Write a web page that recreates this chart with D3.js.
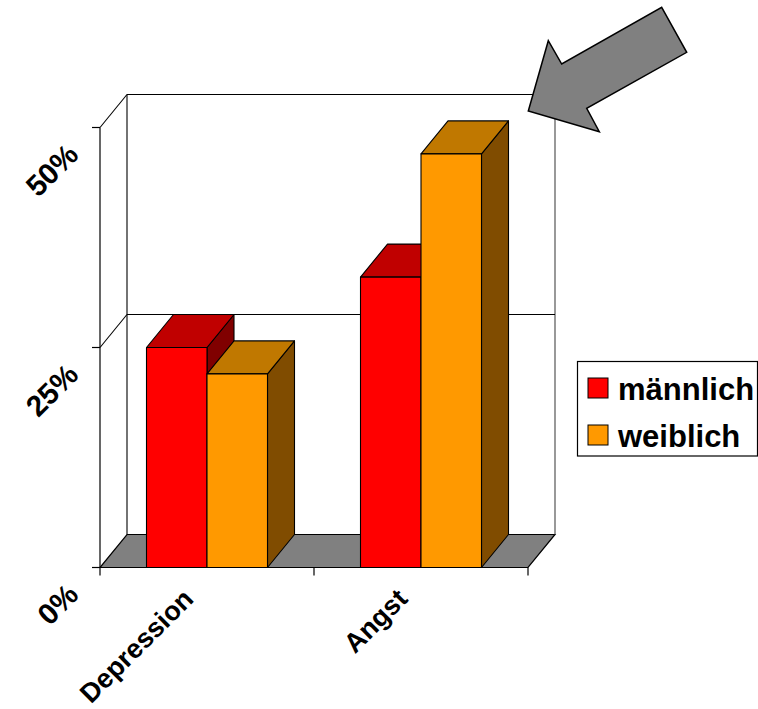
<!DOCTYPE html>
<html>
<head>
<meta charset="utf-8">
<script src="https://cdn.jsdelivr.net/npm/d3@7"></script>
<style>
  html, body { margin: 0; padding: 0; background: #fff; }
  svg { display: block; }
  text { font-family: "Liberation Sans", Arial, sans-serif; font-weight: bold; fill: #000; }
</style>
</head>
<body>
<svg id="chart" width="758" height="709"></svg>
<script>
// Categories, series and values (percent)
const categories = ["Depression", "Angst"];
const seriesNames = ["männlich", "weiblich"];
const maleValues = [25, 33];
const femaleValues = [22, 47];
const yTicks = [0, 25, 50];
const yTickLabels = ["0%", "25%", "50%"];

const seriesColors = {
  "männlich": { front: "#FF0000", top: "#C00000", side: "#800000" },
  "weiblich": { front: "#FF9900", top: "#C07800", side: "#804C00" }
};

const svg = d3.select("#chart");

// Plot geometry: front plane plus a depth offset for the 3D look
const plotLeft = 100, plotRight = 528, plotBottom = 567.5, plotTop = 127.5;
const dx = 27, dy = -33;

const x = d3.scaleBand().domain(categories).range([plotLeft, plotRight]).padding(0);
const barW = 60.5;
const xSeries = d3.scaleBand().domain(seriesNames)
  .range([-barW, barW]).padding(0);
const y = d3.scaleLinear().domain([0, 50]).range([plotBottom, plotTop]);

const pts = arr => arr.map(p => p.join(",")).join(" ");

// Floor
svg.append("polygon")
  .attr("points", pts([[plotLeft, plotBottom], [plotRight, plotBottom], [plotRight + dx, plotBottom + dy], [plotLeft + dx, plotBottom + dy]]))
  .attr("fill", "#808080").attr("stroke", "#000").attr("stroke-width", 1.2);

// Back wall and gridlines
const wall = svg.append("g").attr("stroke", "#000").attr("fill", "none").attr("stroke-width", 1.1);
wall.append("line").attr("x1", plotLeft + dx).attr("x2", plotLeft + dx)
  .attr("y1", y(50) + dy).attr("y2", y(0) + dy);
wall.append("line").attr("x1", plotRight + dx).attr("x2", plotRight + dx)
  .attr("y1", y(50) + dy).attr("y2", y(0) + dy).attr("stroke", "#444");
yTicks.filter(v => v > 0).forEach(v => {
  wall.append("line").attr("x1", plotLeft + dx).attr("x2", plotRight + dx)
    .attr("y1", y(v) + dy).attr("y2", y(v) + dy);
  wall.append("line").attr("x1", plotLeft).attr("x2", plotLeft + dx)
    .attr("y1", y(v)).attr("y2", y(v) + dy);
});

// Bars (side, top, front faces)
const data = categories.map((c, i) => ({
  cat: c,
  values: [
    { s: seriesNames[0], v: maleValues[i] },
    { s: seriesNames[1], v: femaleValues[i] }
  ]
}));

const bars = svg.append("g");
data.forEach(d => {
  const cx = x(d.cat) + x.bandwidth() / 2;
  d.values.forEach(b => {
    const x0 = cx + xSeries(b.s), x1 = x0 + xSeries.bandwidth();
    const y0 = y(0), y1 = y(b.v);
    const col = seriesColors[b.s];
    const g = bars.append("g").attr("stroke", "#000").attr("stroke-width", 1.1).attr("stroke-linejoin", "round");
    g.append("polygon").attr("fill", col.side)
      .attr("points", pts([[x1, y0], [x1 + dx, y0 + dy], [x1 + dx, y1 + dy], [x1, y1]]));
    g.append("polygon").attr("fill", col.top)
      .attr("points", pts([[x0, y1], [x1, y1], [x1 + dx, y1 + dy], [x0 + dx, y1 + dy]]));
    g.append("polygon").attr("fill", col.front)
      .attr("points", pts([[x0, y0], [x1, y0], [x1, y1], [x0, y1]]));
  });
});

// Front axes
const axes = svg.append("g").attr("stroke", "#000").attr("stroke-width", 1.2);
axes.append("line").attr("x1", plotLeft).attr("x2", plotLeft).attr("y1", y(50)).attr("y2", y(0));
yTicks.forEach(v => {
  axes.append("line").attr("x1", plotLeft - 8).attr("x2", plotLeft).attr("y1", y(v)).attr("y2", y(v));
});
[plotLeft, ...categories.map(c => x(c) + x.bandwidth())].forEach(px => {
  axes.append("line").attr("x1", px).attr("x2", px).attr("y1", plotBottom).attr("y2", plotBottom + 8);
});

// Tick labels, rotated
svg.append("g").selectAll("text").data(yTicks).join("text")
  .attr("transform", v => `translate(${plotLeft - 20},${y(v) + 29}) rotate(-45)`)
  .attr("text-anchor", "end").attr("font-size", 29.5)
  .text((v, i) => yTickLabels[i]);

svg.append("g").selectAll("text").data(categories).join("text")
  .attr("transform", c => `translate(${x(c) + x.bandwidth() / 2 - 12},${plotBottom + 33}) rotate(-45)`)
  .attr("text-anchor", "end").attr("font-size", 27)
  .text(c => c);

// Legend
const lg = svg.append("g");
lg.append("rect").attr("x", 577.5).attr("y", 361.5).attr("width", 180).attr("height", 94.5)
  .attr("fill", "#fff").attr("stroke", "#000").attr("stroke-width", 1.2);
seriesNames.forEach((s, i) => {
  lg.append("rect").attr("x", 588).attr("y", 378 + i * 47).attr("width", 20).attr("height", 20)
    .attr("fill", seriesColors[s].front).attr("stroke", "#000").attr("stroke-width", 1);
  lg.append("text").attr("x", 618).attr("y", 399.5 + i * 47).attr("font-size", 31).text(s);
});

// Pointer arrow
svg.append("polygon")
  .attr("points", pts([[661.7, 7.3], [686.7, 52.3], [586.7, 108.3], [599.3, 131.7], [528.3, 111], [548.3, 40.7], [561.7, 64]]))
  .attr("fill", "#808080").attr("stroke", "#000").attr("stroke-width", 1.5).attr("stroke-linejoin", "miter");
</script>
</body>
</html>
